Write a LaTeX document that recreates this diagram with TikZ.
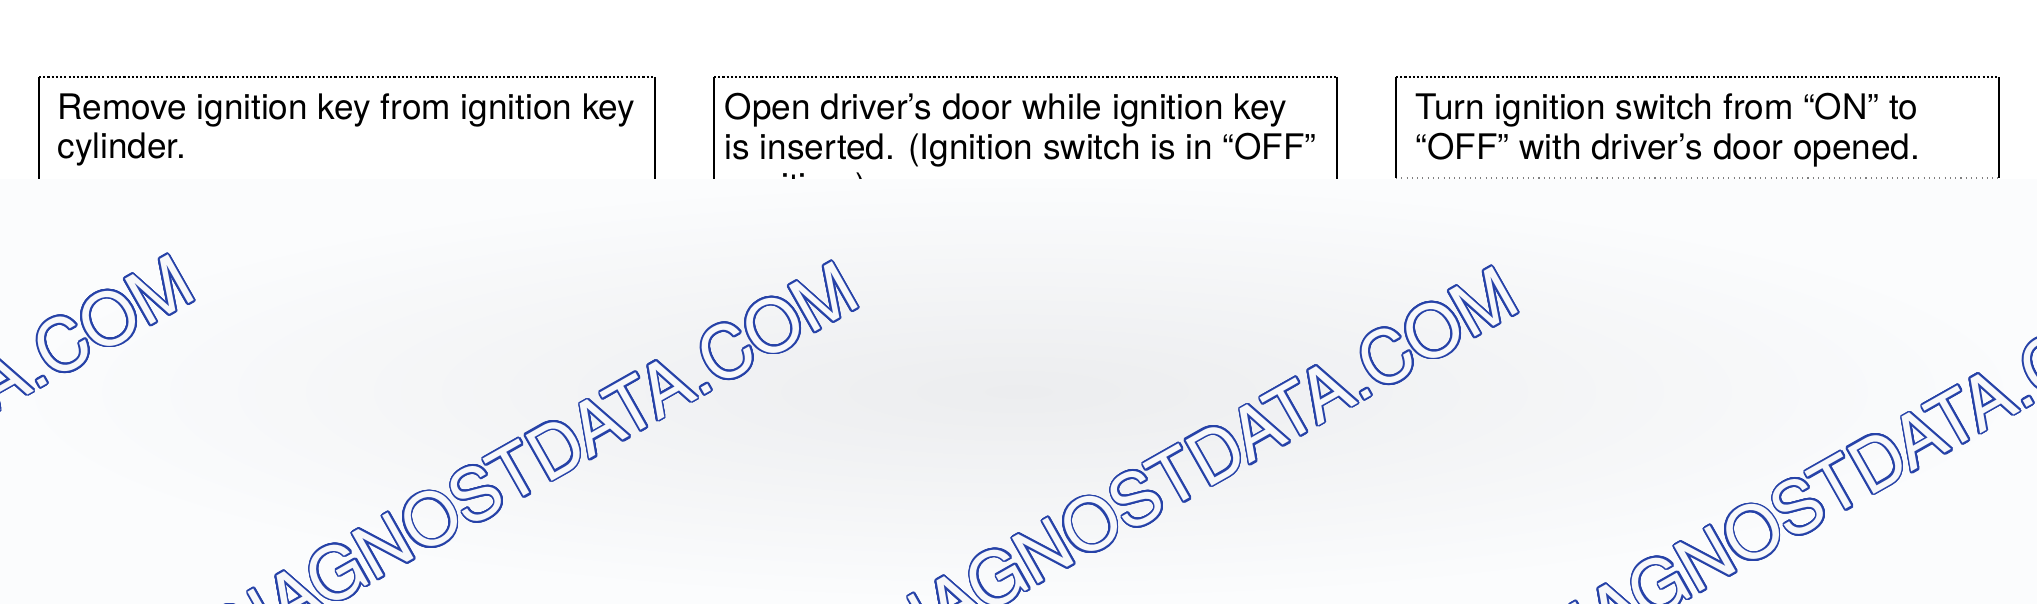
\documentclass[tikz,border=0pt]{standalone}
\usepackage{fontspec}
\setmainfont{TeX Gyre Heros}
\usepackage[copies]{contour}
\contourlength{0.5pt}
\contournumber{24}
\definecolor{wmblau}{RGB}{38,66,168}
\definecolor{wminnen}{RGB}{247,248,250}
\definecolor{grundmitte}{RGB}{236,237,239}
\definecolor{grundrand}{RGB}{251,252,253}
\tikzset{
  kastentext/.style={anchor=north west, inner sep=0pt, align=left, font=\fontsize{10pt}{11.2pt}\selectfont},
  rand/.style={line width=0.8pt},
  oberkante/.style={line width=0.4pt, dash pattern=on 0.6pt off 0.6pt},
  unterkante/.style={line width=0.4pt, gray, dash pattern=on 0.3pt off 1.2pt},
  wasserzeichen/.style={rotate=29.5, inner sep=0pt, font=\fontsize{20.5pt}{24pt}\selectfont}
}
\newcommand{\wmtext}{\contour{wmblau}{\textcolor{wminnen}{DIAGNOSTDATA.COM}}}

\begin{document}
\begin{tikzpicture}[x=0.01cm, y=0.01cm]
  \useasboundingbox (0,0) rectangle (2037,603);
  % Linker Kasten
  \begin{scope}
    \coordinate (k1nw) at (39,526); \coordinate (k1ne) at (655,526);
    \coordinate (k1sw) at (39,400); \coordinate (k1se) at (655,400);
    \draw[oberkante] (k1nw) -- (k1ne);
    \draw[rand] (k1nw) -- (k1sw);
    \draw[rand] (k1ne) -- (k1se);
    \node[kastentext] (t1) at (57,510) {Remove ignition key from ignition key\\cylinder.};
  \end{scope}
  % Mittlerer Kasten
  \begin{scope}
    \coordinate (k2nw) at (714,526); \coordinate (k2ne) at (1337,526);
    \coordinate (k2sw) at (714,400); \coordinate (k2se) at (1337,400);
    \draw[oberkante] (k2nw) -- (k2ne);
    \draw[rand] (k2nw) -- (k2sw);
    \draw[rand] (k2ne) -- (k2se);
    \node[kastentext] (t2) at (724,510) {Open driver’s door while ignition key\\is inserted. (Ignition switch is in “OFF”\\position.)};
  \end{scope}
  % Rechter Kasten
  \begin{scope}
    \coordinate (k3nw) at (1396,526); \coordinate (k3ne) at (1999,526);
    \coordinate (k3sw) at (1396,425); \coordinate (k3se) at (1999,425);
    \draw[oberkante] (k3nw) -- (k3ne);
    \draw[unterkante] (k3sw) -- (k3se);
    \draw[rand] (k3nw) -- (k3sw);
    \draw[rand] (k3ne) -- (k3se);
    \node[kastentext] (t3) at (1415,510) {Turn ignition switch from “ON” to\\“OFF” with driver’s door opened.};
  \end{scope}
  % Grauer Grund
  \shade[inner color=grundmitte, outer color=grundrand] (0,0) rectangle (2037,423);
  % Wasserzeichen
  \begin{scope}
    \clip (0,0) rectangle (2037,423);
    \node[wasserzeichen] (wmA) at (-134,146) {\wmtext};
    \node[wasserzeichen] (wmB) at (530,139) {\wmtext};
    \node[wasserzeichen] (wmC) at (1190,134) {\wmtext};
    \node[wasserzeichen] (wmD) at (1852,126) {\wmtext};
  \end{scope}
\end{tikzpicture}
\end{document}
